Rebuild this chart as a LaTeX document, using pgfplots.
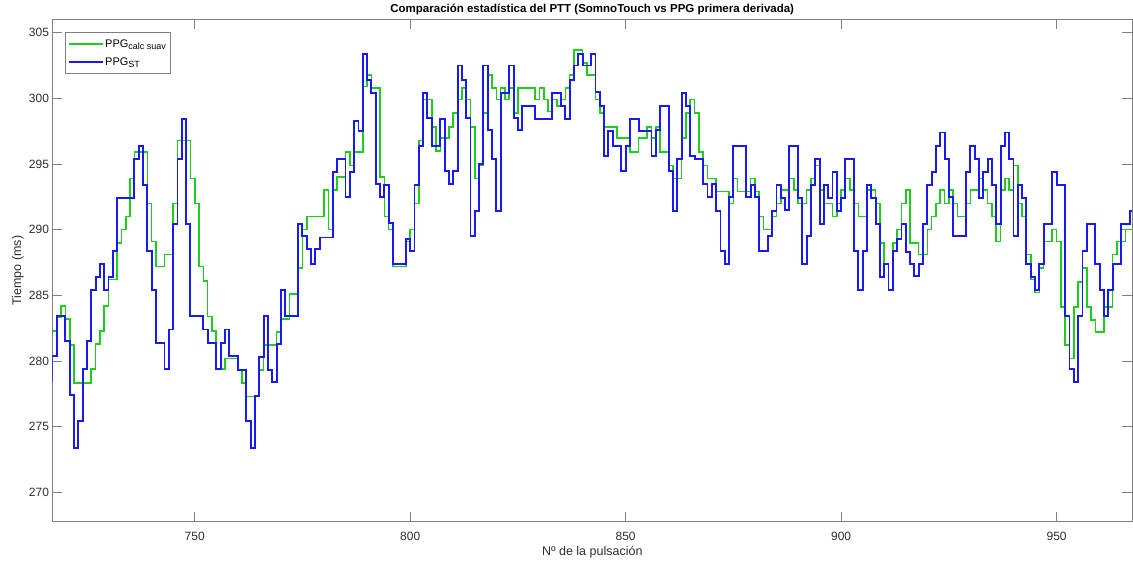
\documentclass[border=0pt]{standalone}
\usepackage{fontspec}
\setmainfont{Liberation Sans}
\usepackage{pgfplots}
\usepackage{pgfplotstable}
\pgfplotsset{compat=1.18}
\definecolor{mgreen}{RGB}{30,205,30}
\definecolor{mblue}{RGB}{25,25,245}
\definecolor{axgray}{RGB}{128,128,128}
\definecolor{txt}{RGB}{45,45,45}
\pgfplotstableread{
n g b
716 282.3 278.5
717 282.3 280.4
718 283.3 283.4
719 284.2 283.4
720 283.2 281.5
721 281.2 277.4
722 278.3 273.4
723 278.3 275.4
724 278.3 279.4
725 278.3 281.5
726 279.4 285.4
727 281.3 286.4
728 282.3 287.4
729 284.2 285.4
730 286.2 286.4
731 286.2 288.4
732 289.0 292.4
733 290.0 292.4
734 291.0 292.4
735 293.9 292.4
736 295.9 295.4
737 295.9 296.4
738 295.9 293.4
739 292.0 288.4
740 289.1 285.4
741 287.2 281.4
742 287.2 281.4
743 288.1 279.4
744 288.1 282.4
745 292.0 290.4
746 296.8 295.4
747 296.8 298.4
748 296.8 290.4
749 293.9 283.4
750 292.0 283.4
751 287.2 283.4
752 286.1 282.4
753 283.4 281.4
754 282.3 281.4
755 279.4 279.4
756 279.4 281.4
757 280.2 282.4
758 280.2 280.4
759 280.2 280.4
760 279.3 279.3
761 278.3 279.3
762 277.3 275.4
763 277.3 273.4
764 277.3 277.3
765 279.3 280.3
766 281.2 283.4
767 281.2 279.3
768 281.2 278.4
769 282.2 281.3
770 283.2 285.4
771 283.2 283.4
772 285.1 283.4
773 285.1 283.4
774 287.1 290.4
775 290.0 289.5
776 291.0 288.5
777 291.0 287.4
778 291.0 288.5
779 291.0 289.4
780 293.0 289.4
781 290.0 289.4
782 293.0 294.4
783 294.0 295.4
784 294.0 295.4
785 295.9 292.5
786 294.9 294.4
787 295.9 298.3
788 295.9 297.5
789 300.9 303.4
790 301.8 301.4
791 300.8 300.4
792 300.8 293.5
793 294.0 292.5
794 291.0 293.4
795 290.0 290.5
796 287.2 287.4
797 287.2 287.4
798 287.2 287.4
799 289.1 289.3
800 290.0 288.4
801 292.0 293.4
802 296.8 296.4
803 299.9 300.4
804 299.9 298.5
805 297.8 296.4
806 296.0 296.4
807 297.0 298.4
808 297.0 294.5
809 297.8 293.5
810 298.9 294.5
811 299.9 302.5
812 300.8 301.4
813 299.9 298.5
814 297.8 289.5
815 293.9 291.4
816 294.9 295.0
817 298.9 302.5
818 301.8 297.6
819 300.8 295.4
820 299.9 291.4
821 300.8 300.4
822 299.9 300.4
823 300.8 302.5
824 298.9 298.5
825 300.8 297.6
826 300.8 299.4
827 300.8 299.4
828 300.8 299.4
829 299.9 298.4
830 300.8 298.4
831 299.9 298.4
832 299.0 298.4
833 299.9 300.4
834 299.4 300.4
835 299.9 299.4
836 300.8 298.4
837 301.8 301.4
838 303.7 302.5
839 303.7 303.4
840 302.7 302.5
841 301.8 302.5
842 301.8 303.4
843 299.9 300.5
844 298.9 299.4
845 297.8 295.6
846 297.8 297.5
847 297.8 296.4
848 297.0 296.4
849 297.0 294.5
850 297.0 296.4
851 295.9 298.4
852 295.9 298.4
853 297.0 297.5
854 297.0 297.5
855 297.8 297.5
856 297.0 295.6
857 297.8 297.6
858 295.9 299.4
859 295.9 299.4
860 294.9 294.5
861 293.9 291.4
862 293.9 295.4
863 297.0 300.4
864 298.9 299.4
865 299.9 295.6
866 298.9 295.4
867 295.9 295.4
868 294.9 293.5
869 293.9 292.5
870 293.9 293.5
871 292.9 291.4
872 292.9 288.4
873 292.9 287.4
874 292.0 292.5
875 293.9 296.4
876 292.9 296.4
877 292.9 296.4
878 292.9 292.5
879 293.9 293.4
880 292.9 292.5
881 291.0 288.4
882 290.0 288.4
883 290.0 289.5
884 291.0 291.4
885 292.0 293.4
886 293.0 292.4
887 293.0 291.5
888 293.9 296.4
889 293.0 296.4
890 292.0 292.4
891 292.0 287.4
892 293.0 289.5
893 293.9 293.4
894 294.9 295.4
895 293.0 290.4
896 292.0 293.4
897 292.0 292.4
898 291.0 294.4
899 292.0 291.4
900 293.0 292.4
901 293.9 295.4
902 293.0 295.4
903 292.0 288.4
904 291.0 285.4
905 291.0 288.4
906 293.0 293.4
907 293.0 292.4
908 292.0 290.4
909 289.0 286.4
910 287.4 287.4
911 285.4 285.4
912 289.0 288.4
913 290.0 289.3
914 292.0 290.4
915 293.0 288.3
916 289.0 287.4
917 289.0 286.5
918 288.1 287.4
919 288.1 290.4
920 290.0 293.4
921 291.0 294.4
922 292.0 296.4
923 293.0 297.4
924 292.0 295.4
925 293.0 292.5
926 292.0 289.5
927 291.0 289.5
928 291.0 289.5
929 292.0 294.4
930 293.0 296.4
931 293.0 295.4
932 293.9 292.4
933 293.0 294.4
934 292.0 295.4
935 291.0 293.4
936 289.1 290.4
937 293.0 296.4
938 293.9 297.4
939 293.0 295.4
940 294.9 289.5
941 292.0 293.4
942 291.0 292.4
943 288.1 287.4
944 286.2 286.4
945 285.2 285.4
946 287.1 287.4
947 289.1 290.4
948 289.1 290.4
949 290.0 294.4
950 289.1 293.4
951 284.1 293.4
952 281.2 283.4
953 280.2 279.4
954 284.1 278.4
955 286.0 283.4
956 287.1 288.4
957 284.1 290.4
958 283.1 290.4
959 282.2 287.4
960 282.2 285.4
961 284.1 283.4
962 284.1 285.4
963 288.1 287.4
964 289.1 287.4
965 289.1 290.4
966 290.0 290.4
967 290.0 291.4
968 290.0 291.4
}\datatable
\begin{document}
\begin{tikzpicture}
\useasboundingbox (-52.5pt,-43.3pt) rectangle (1080.5pt,521.7pt);
\begin{axis}[
  at={(0pt,0pt)}, anchor=south west,
  scale only axis, width=1079.5pt, height=502.4pt,
  xmin=717, xmax=967.5, ymin=267.76, ymax=306.02,
  xtick={750,800,850,900,950}, ytick={270,275,...,305},
  tick align=inside, major tick length=10pt,
  axis line style={axgray, line width=0.8pt},
  every tick/.style={axgray, line width=0.6pt},
  tick label style={font=\fontsize{12}{14}\selectfont, text=txt},
  xticklabel style={yshift=-7pt},
  /pgf/number format/assume math mode=true,
  /pgf/number format/1000 sep={},
  title={\bfseries Comparación estadística del PTT (SomnoTouch vs PPG primera derivada)},
  title style={at={(0.5,1)}, anchor=base, yshift=0.5pt, font=\fontsize{11.5}{13}\selectfont, text=black},
  xlabel={Nº de la pulsación},
  xlabel style={at={(axis description cs:0.5,0)}, anchor=center, yshift=-30.5pt, font=\fontsize{12.5}{14}\selectfont, text=txt},
  ylabel={Tiempo (ms)},
  ylabel style={at={(axis description cs:-0.032,0.5)}, anchor=center, font=\fontsize{12.5}{14}\selectfont, text=txt},
  legend style={at={(0.0116,0.974)}, anchor=north west, draw=axgray, line width=0.6pt,
     font=\fontsize{11}{13}\selectfont, inner xsep=2.5pt, inner ysep=5.5pt, row sep=5.5pt,
     nodes={inner sep=1.5pt, text=black}},
  legend cell align=left,
  legend image code/.code={\draw[#1] (0pt,0pt) -- (34pt,0pt);},
  clip=true,
]
\addplot[const plot, mgreen, line width=1.6pt] table[x=n, y=g] {\datatable};
\addlegendentry{PPG\raisebox{-0.45ex}{\fontsize{9}{10}\selectfont calc suav}}
\addplot[const plot, mblue, line width=1.9pt] table[x=n, y=b] {\datatable};
\addlegendentry{PPG\raisebox{-0.45ex}{\fontsize{9}{10}\selectfont ST}}
\end{axis}
\end{tikzpicture}
\end{document}
